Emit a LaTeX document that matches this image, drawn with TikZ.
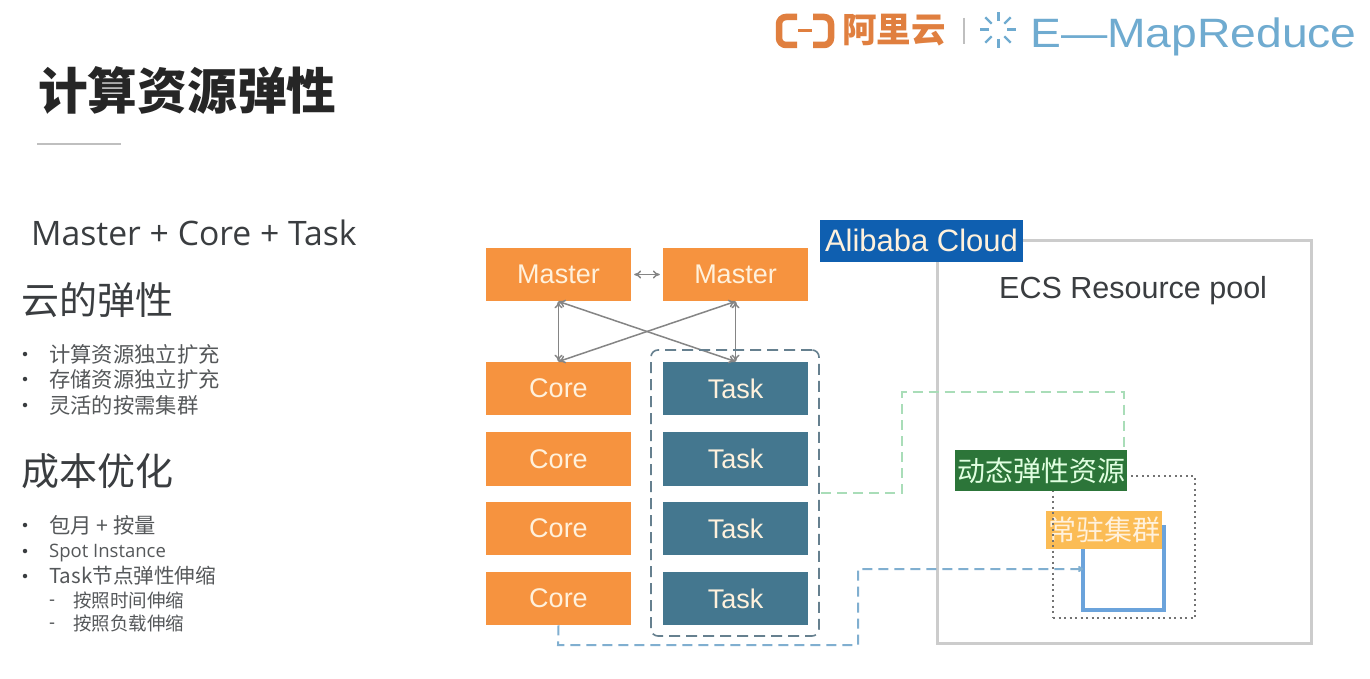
\documentclass[tikz,border=0pt]{standalone}
\usepackage{fontspec}
\setmainfont{Liberation Sans}
\newfontfamily\cjkf{Noto Sans CJK SC}
\newfontfamily\opensans{Open Sans}
\newfontfamily\logofont[FakeStretch=1.128]{Liberation Sans}
\usetikzlibrary{arrows.meta,calc}
\definecolor{orangebox}{HTML}{F6933F}
\definecolor{taskbox}{HTML}{44778F}
\definecolor{cream}{HTML}{FFF1DC}
\definecolor{arrowgray}{HTML}{858585}
\definecolor{txtdark}{HTML}{3A3D40}
\definecolor{txtgray}{HTML}{55585A}
\definecolor{logoorange}{HTML}{E07F3F}
\definecolor{logoblue}{HTML}{6FABD0}
\definecolor{cloudblue}{HTML}{0F5FB0}
\definecolor{permorange}{HTML}{FBBC55}
\definecolor{resgreen}{HTML}{2C7539}
\definecolor{ublue}{HTML}{6BA3DB}
\definecolor{dashblue}{HTML}{80AFD0}
\definecolor{dashgreen}{HTML}{A9DDB8}
\definecolor{groupgray}{HTML}{66808F}
\tikzset{
  x=1pt,y=-1pt,
  lbl/.style={font=\fontsize{27}{27}\selectfont,text=cream,inner sep=0pt,minimum width=145pt,minimum height=53.5pt},
  mbox/.style={lbl,fill=orangebox},
  tbox/.style={lbl,fill=taskbox},
  txt/.style={anchor=west,inner sep=0pt},
  h2/.style={txt,font=\cjkf\fontsize{38}{38}\selectfont,text=txtdark},
  li/.style={txt,font=\cjkf\fontsize{21.3}{22}\selectfont,text=txtgray},
  lisub/.style={txt,font=\cjkf\fontsize{18.5}{20}\selectfont,text=txtgray},
  bul/.style={circle,fill=txtdark,inner sep=0pt,minimum size=4.5pt},
  link/.style={draw=arrowgray,line width=1.5pt,{To[length=7pt,width=8pt]}-{To[length=7pt,width=8pt]}},
  dashlink/.style={line width=2pt,dash pattern=on 10pt off 6pt},
}
\begin{document}
\begin{tikzpicture}
\useasboundingbox (0,0) rectangle (1370,679);
\fill[white] (0,0) rectangle (1370,679);
% logo
\draw[logoorange,line width=6.5pt,rounded corners=7pt] (797,17) -- (779,17) -- (779,45) -- (797,45);
\draw[logoorange,line width=6.5pt,rounded corners=7pt] (813,17) -- (831,17) -- (831,45) -- (813,45);
\draw[logoorange,line width=3pt] (798,31) -- (812,31);
\node[txt,text=logoorange] (logocn) at (842,30) {\cjkf\bfseries\fontsize{34.5}{35}\selectfont 阿里云};
\draw[black!25,line width=1.2pt] (964,18) -- (964,44);
\coordinate (spark) at (998,30);
\foreach \a/\w in {0/3,45/2.4,90/3,135/2.4,180/3,225/2.4,270/3,315/2.4}
  \draw[logoblue,line width=\w pt] ($(spark)+(\a:9)$) -- ($(spark)+(\a:18)$);
\node[txt,text=logoblue] (logoen) at (1030,37) {\logofont\fontsize{41}{41}\selectfont E—MapReduce};
% title
\node[txt,text=black!85] (title) at (38,90) {\cjkf\bfseries\fontsize{49.7}{50}\selectfont 计算资源弹性};
\draw[black!25,line width=1.2pt] (37,144) -- (121,144);
% left text
\node[txt,text=txtdark] (sub) at (31,233) {\opensans\fontsize{33.7}{34}\selectfont Master + Core + Task};
\node[h2] (h1) at (21,300) {云的弹性};
\node[h2] (h2n) at (21,471) {成本优化};
\foreach \n/\y/\t in {a/354/计算资源独立扩充,b/379/存储资源独立扩充,c/405/灵活的按需集群,d/525/包月 + 按量}{
  \node[li] (li\n) at (49,\y) {\t};
  \node[bul] (bu\n) at (25,\y) {};
}
\node[li,font=\opensans\fontsize{18.5}{20}\selectfont] (lie) at (49,553) {Spot Instance};
\node[bul] (bue) at (25,551) {};
\node[li,font=\cjkf\fontsize{20.6}{21}\selectfont] (lif) at (49,576) {Task节点弹性伸缩};
\node[bul] (buf) at (25,576) {};
\node[lisub] (lig) at (73,600) {按照时间伸缩};
\node[lisub] (lih) at (73,623) {按照负载伸缩};
\node[txt,text=txtgray,font=\fontsize{18}{18}\selectfont] (dg) at (49,603) {-};
\node[txt,text=txtgray,font=\fontsize{18}{18}\selectfont] (dh) at (49,626) {-};
% cluster boxes
\node[mbox] (m1) at (558.5,274.5) {Master};
\node[mbox] (m2) at (735.5,274.5) {Master};
\foreach \i/\y in {1/388.5,2/459,3/528.5,4/598.5}{
  \node[mbox] (c\i) at (558.5,\y) {Core};
  \node[tbox] (t\i) at (735.5,\y) {Task};
}
\draw[link,shorten <=3pt,shorten >=3pt] (m1.east) -- (m2.west);
\draw[link] (m1.south) -- (c1.north);
\draw[link] (m1.south) -- (t1.north);
\draw[link] (m2.south) -- (c1.north);
\draw[link] (m2.south) -- (t1.north);
\node[draw=groupgray,line width=1.6pt,dash pattern=on 11pt off 6pt,rounded corners=7pt,minimum width=168pt,minimum height=286pt,inner sep=0pt] (group) at (735,493) {};
% cloud
\node[draw=black!20,line width=3pt,minimum width=374pt,minimum height=403pt,inner sep=0pt] (pool) at (1124,441.5) {};
\node[fill=cloudblue,inner sep=0pt,minimum width=203pt,minimum height=42pt,text=cream,font=\fontsize{31}{31}\selectfont] (cloud) at (921.5,240.5) {Alibaba Cloud};
\node[txt,text=txtdark,font=\fontsize{30.5}{31}\selectfont] (ecs) at (999,291) {ECS Resource pool};
% blue U
\coordinate (ul) at (1083,549);
\coordinate (ur) at (1164,525);
\draw[ublue,line width=3.5pt] (ul) -- (1083,610) -- (1164,610) -- (ur);
\node[fill=permorange,inner sep=0pt,minimum width=116pt,minimum height=38pt,text=cream,font=\cjkf\fontsize{28}{28}\selectfont] (perm) at (1104,530) {常驻集群};
\node[draw=black!55,line width=1.8pt,dash pattern=on 2pt off 3.5pt,minimum width=142pt,minimum height=142pt,inner sep=0pt] (dyn) at (1124,547) {};
% dashed connectors
\coordinate (gr) at (821,492.5);
\coordinate (resin) at (1124,470);
\draw[dashgreen,dashlink] (gr) -- (902,492.5) -- (902,392) -- (1124,392) -- (resin);
\node[fill=resgreen,inner sep=0pt,minimum width=172pt,minimum height=41pt,text=green!12!white,font=\cjkf\fontsize{28}{28}\selectfont] (res) at (1041,470.5) {动态弹性资源};
\coordinate (blueend) at (1083,569);
\draw[dashblue,dashlink,-{To[length=5pt,width=6pt]}] (c4.south) -- (558,645) -- (858,645) -- (858,569) -- (blueend);
\end{tikzpicture}
\end{document}
